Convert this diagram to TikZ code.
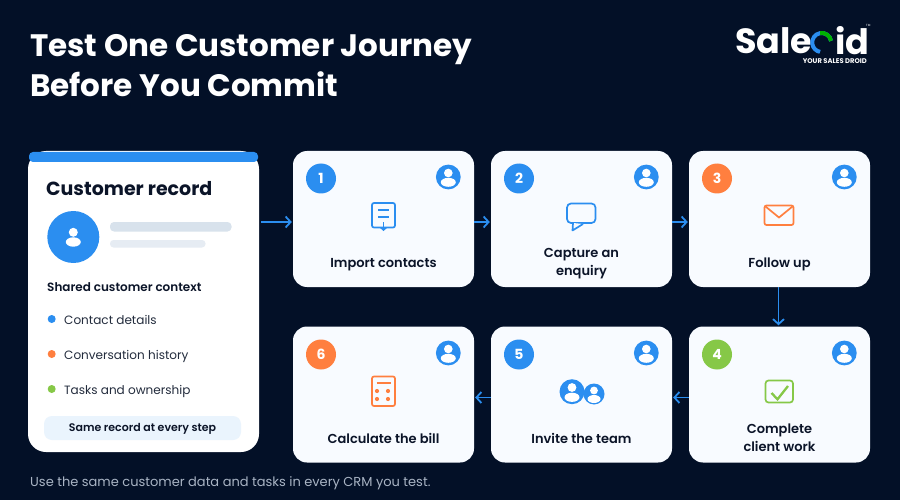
\documentclass[tikz,border=0pt]{standalone}
\usepackage{fontspec}
\setmainfont{Poppins}
\newfontfamily\semifont{Poppins SemiBold}
\usepackage{xcolor}
\usetikzlibrary{arrows.meta, positioning, calc}

\definecolor{pagebg}{HTML}{031027}
\definecolor{inkdark}{HTML}{0B1428}
\definecolor{cardbg}{HTML}{F8FBFF}
\definecolor{flowblue}{HTML}{2B8EF0}
\definecolor{floworange}{HTML}{FF7F3F}
\definecolor{flowgreen}{HTML}{86C847}
\definecolor{barone}{HTML}{D8E2EC}
\definecolor{bartwo}{HTML}{E6ECF3}
\definecolor{footgrey}{HTML}{A9B4C4}

\tikzset{
  card/.style={fill=cardbg, rounded corners=14pt, minimum width=181pt, minimum height=136pt, inner sep=0pt},
  cardlabel/.style={font=\semifont\fontsize{13}{18}\selectfont, text=inkdark, align=center, inner sep=0pt},
  badge/.style={circle, minimum size=30pt, inner sep=0pt, text=white, font=\bfseries\fontsize{14}{14}\selectfont},
  itemtext/.style={font=\fontsize{12.05}{14}\selectfont, text=inkdark!90, anchor=base west, inner sep=0pt},
  flow/.style={flowblue, line width=1.8pt, shorten >=1pt, -{Straight Barb[length=5pt,width=11pt]}},
  icon/.style={line width=1.7pt, rounded corners=2pt}
}

\begin{document}
\begin{tikzpicture}[x=1pt, y=-1pt]
  \useasboundingbox (0,0) rectangle (900,500);
  \fill[pagebg] (0,0) rectangle (900,500);

  % Heading
  \node[anchor=base west, inner sep=0pt, text=white, font=\bfseries\fontsize{31}{40}\selectfont] (titleone) at (30,57) {Test One Customer Journey};
  \node[anchor=base west, inner sep=0pt, text=white, font=\bfseries\fontsize{31}{40}\selectfont] (titletwo) at (30,97) {Before You Commit};
  \node[anchor=base west, inner sep=0pt, text=footgrey, font=\fontsize{13}{16}\selectfont] (footer) at (30,486) {Use the same customer data and tasks in every CRM you test.};

  % Logo
  \node[anchor=west, inner sep=0pt, text=white, font=\bfseries\fontsize{35}{40}\selectfont] (logosale) at (735,41) {Sale};
  \node[anchor=west, inner sep=0pt, text=white, font=\bfseries\fontsize{35}{40}\selectfont] (logoid) at (835,41) {id};
  \node[anchor=east, inner sep=0pt, text=white, font=\bfseries\fontsize{6.8}{8}\selectfont] (logotag) at (867,61.5) {YOUR SALES DROID};
  \node[anchor=west, inner sep=0pt, text=white, font=\fontsize{3}{4}\selectfont] (logotm) at (866,25) {TM};
  \draw[flowblue, line width=4pt] (821.7,42.5) ++(-10:9.5) arc[start angle=-10, end angle=-260, radius=9.5];
  \draw[green!70!black, line width=4pt] (821.7,42.5) ++(-100:9.5) arc[start angle=-100, end angle=-10, radius=9.5];

  % Customer record
  \node[fill=white, rounded corners=18pt, minimum width=231pt, minimum height=301pt, inner sep=0pt] (record) at (143.5,301.5) {};
  \fill[flowblue, rounded corners=4pt] (29,152) rectangle (258,162);
  \node[anchor=west, inner sep=0pt, text=inkdark, font=\bfseries\fontsize{19}{22}\selectfont] (recordtitle) at (46,189) {Customer record};
  \fill[flowblue] (73.3,237) circle (26);
  \fill[white] (73.3,232.3) circle (4.5);
  \fill[white] (73.3,242) ellipse [x radius=7.5, y radius=4.7];
  \fill[barone, rounded corners=4pt] (110,222) rectangle (231.5,231.5);
  \fill[bartwo, rounded corners=3.5pt] (110,240) rectangle (205.5,247.5);
  \node[anchor=west, inner sep=0pt, text=inkdark, font=\semifont\fontsize{12}{14}\selectfont] (sharedlabel) at (47,287.5) {Shared customer context};

  \foreach \y/\col/\txt in {319/flowblue/Contact details, 354/floworange/Conversation history, 389/flowgreen/Tasks and ownership} {
    \fill[\col] (51.7,\y) circle (4);
    \node[itemtext] (item\y) at (64,\y+5) {\txt};
  }

  \fill[flowblue!10!white, rounded corners=8pt] (44,416) rectangle (241,440);
  \node[inner sep=0pt, text=inkdark, font=\semifont\fontsize{11}{14}\selectfont] (samelabel) at (142.5,429) {Same record at every step};

  % Step cards
  \node[card] (importcard) at (383.5,219) {};
  \node[card] (enquirycard) at (581.5,219) {};
  \node[card] (followcard) at (779.5,219) {};
  \node[card] (workcard) at (779.5,394.5) {};
  \node[card] (inviteteam) at (581.5,394.5) {};
  \node[card] (billcard) at (383.5,394.5) {};

  % Badges
  \foreach \num/\x/\y/\col in {1/321/178.5/flowblue, 2/519/178.5/flowblue, 3/717/178.5/floworange, 4/717/354.5/flowgreen, 5/519/354.5/flowblue, 6/321/354.5/floworange} {
    \node[badge, fill=\col] (badge\num) at (\x,\y) {\num};
  }

  % User marks
  \foreach \x/\y in {448.3/177, 646.3/177, 844.3/177, 844.3/353, 646.3/353, 448.3/353} {
    \fill[flowblue] (\x,\y) circle (12.4);
    \fill[white] (\x,\y-4) circle (4.3);
    \fill[white] (\x,\y+5.3) ellipse [x radius=7.5, y radius=4.5];
  }

  % Labels
  \node[cardlabel] (importlabel) at (383.5,264.5) {Import contacts};
  \node[cardlabel] (enquirylabel) at (581.5,264) {Capture an\\enquiry};
  \node[cardlabel] (followlabel) at (779.5,264) {Follow up};
  \node[cardlabel] (worklabel) at (779.5,438) {Complete\\client work};
  \node[cardlabel] (invitelabel) at (581.5,438.5) {Invite the team};
  \node[cardlabel] (billlabel) at (383.5,438.5) {Calculate the bill};

  % Icons
  \draw[icon, flowblue] (372,203) rectangle (395,227.5);
  \draw[flowblue, line width=1.7pt] (378,210) -- (389,210) (378,217) -- (389,217) (383.5,222) -- (383.5,227);
  \fill[flowblue] (379.5,227.5) -- (387.5,227.5) -- (383.5,231) -- cycle;

  \draw[icon, flowblue, rounded corners=4pt] (567,203.5) rectangle (595.5,223);
  \draw[flowblue, line width=1.7pt, fill=cardbg, line join=round] (573,223) -- (572.5,230.5) -- (583,224);

  \draw[icon, floworange] (764.5,205.5) rectangle (793.5,225);
  \draw[floworange, line width=1.7pt] (765.5,206.5) -- (779,217.5) -- (792.5,206.5);

  \draw[icon, flowgreen, rounded corners=3pt] (765.5,380.5) rectangle (793,402.5);
  \draw[flowgreen, line width=2.3pt] (771.5,393) -- (777.5,399.3) -- (788,386);

  \fill[flowblue] (572,391.7) circle (12.5);
  \fill[white] (572,387.5) circle (4.4);
  \fill[white] (572,397.3) ellipse [x radius=7.5, y radius=4.6];
  \fill[flowblue] (594,394) circle (10.5);
  \fill[white] (594,390.5) circle (3.9);
  \fill[white] (594,399) ellipse [x radius=6.5, y radius=4];

  \draw[icon, floworange] (372,376.5) rectangle (395,406);
  \draw[floworange, line width=1.7pt] (376.5,383) -- (390.5,383);
  \foreach \x/\y in {377/391, 388/391, 377/399, 388/399} {
    \fill[floworange] (\x,\y) circle (2.1);
  }

  % Connectors
  \draw[flow, shorten <=2pt] ([yshift=-3pt]record.east |- importcard.west) -- ([yshift=-3pt]importcard.west);
  \draw[flow] ([yshift=-3pt]importcard.east) -- ([yshift=-3pt]enquirycard.west);
  \draw[flow] ([yshift=-3pt]enquirycard.east) -- ([yshift=-3pt]followcard.west);
  \draw[flow] ([xshift=-1pt]followcard.south) -- ([xshift=-1pt]workcard.north);
  \draw[flow] ([yshift=-3pt]workcard.west) -- ([yshift=-3pt]inviteteam.east);
  \draw[flow] ([yshift=-3pt]inviteteam.west) -- ([yshift=-3pt]billcard.east);
\end{tikzpicture}
\end{document}
